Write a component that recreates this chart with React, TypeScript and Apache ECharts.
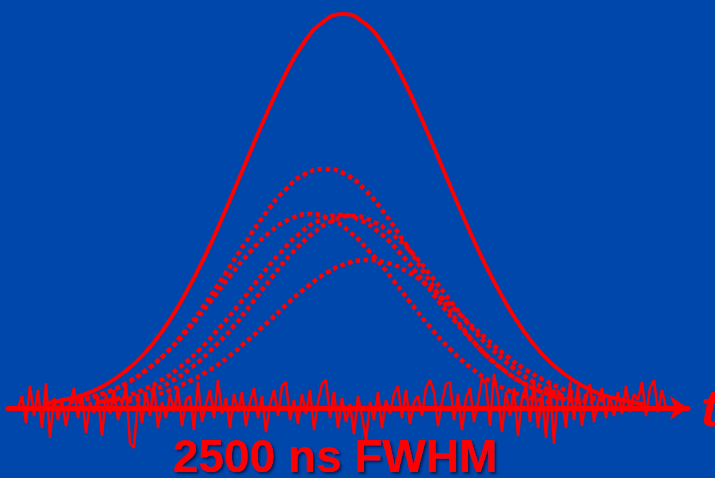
import React, { useEffect, useRef } from "react";
import * as echarts from "echarts";

// ---- data (x = time sample position, y = signal height above baseline) ----
const STEP = 20;

// solid reference pulse
const SOLID_START = 43;
const SOLID = [4, 8, 13, 22, 35, 53, 78, 110, 148, 192, 239, 286, 329, 364, 386, 394, 386, 364, 329, 286, 239, 192, 148, 110, 78, 53, 35, 22, 13, 8, 4];

// dotted individual pulses
const DOT_A_START = 85;
const DOT_A = [9, 15, 24, 37, 54, 77, 104, 134, 165, 194, 218, 234, 239, 234, 218, 194, 165, 134, 104, 77, 54, 37, 24, 15, 9];
const DOT_B_START = 70;
const DOT_B = [6, 10, 17, 27, 41, 59, 81, 106, 132, 156, 176, 189, 194, 189, 176, 156, 132, 106, 81, 59, 41, 27, 17, 10, 6];
const DOT_C_START = 100;
const DOT_C = [6, 10, 17, 27, 41, 59, 81, 105, 131, 155, 175, 188, 193, 188, 175, 155, 131, 105, 81, 59, 41, 27, 17, 10, 6];
const DOT_D_START = 112;
const DOT_D = [6, 10, 17, 27, 41, 59, 80, 105, 131, 155, 174, 187, 192, 187, 174, 155, 131, 105, 80, 59, 41, 27, 17, 10, 6];
const DOT_E_START = 128;
const DOT_E = [7, 11, 17, 26, 37, 51, 68, 86, 105, 122, 136, 145, 148, 145, 136, 122, 105, 86, 68, 51, 37, 26, 17, 11, 7];

// baseline noise
const NOISE_START = 18;
const NOISE_STEP = 4;
const NOISE = [
  0, 12, -15, 22, -8, 18, -20, 25, -30, 10, -12,
  8, -18, 5, 20, -10, 15, -25, 6, -5, 12,
  -28, 14, -6, 18, -12, 4, 22, -35, -40, 10,
  -15, 16, -8, 24, -20, 6, -10, 14, -4, 20,
  -18, 8, 12, -22, 26, -14, 4, 18, -10, 28,
  -6, 10, -20, 14, -4, 16, -18, 6, 20, -10,
  12, -24, 4, 18, -8, 22, 26, -12, 8, -16,
  14, -6, 18, -22, 6, 24, 28, -10, 16, -20,
  10, -14, 4, -26, 12, -8, -32, 6, -12, 16,
  -20, 8, -6, 14, 22, -10, 18, -16, 6, 12,
  -8, 20, 28, 16, -18, 6, 24, 26, -12, 14,
  -22, 10, 20, -14, 6, 30, 24, -18, 34, 12,
  -24, 16, -8, 20, -28, 10, 22, -14, 26, -20,
  14, -30, 24, -36, 18, 8, -20, 26, -12, 22,
  -18, 10, 24, -14, 6, 20, -10, 12, -8, 16,
  -6, 22, -4, 14, 8, 26, -8, 20, 28, -4, 18, 0,
];

const AXIS_NAME = "t";
const CAPTION = "2500 ns FWHM";

const RED = "#ff0000";
const BG = "#0047ab";
const FONT = "'Liberation Sans', Arial, sans-serif";

function toPairs(start: number, step: number, vals: number[]) {
  return vals.map((v, i) => [start + i * step, v]);
}

export default function App() {
  const ref = useRef<HTMLDivElement>(null);
  useEffect(() => {
    if (!ref.current) return;
    const chart = echarts.init(ref.current, null, { renderer: "svg" });
    const dotted = (start: number, vals: number[]) => ({
      type: "line",
      data: toPairs(start, STEP, vals),
      smooth: true,
      symbol: "none",
      z: 3,
      lineStyle: { color: RED, width: 4.5, type: [4.5, 3.5], cap: "butt" },
    });
    chart.setOption({
      animation: false,
      backgroundColor: BG,
      grid: { left: 8, right: 27, top: 0, bottom: 0, outerBoundsMode: "none", containLabel: false },
      xAxis: {
        type: "value",
        min: 8,
        max: 688,
        name: AXIS_NAME,
        nameLocation: "end",
        nameGap: 13,
        nameTextStyle: {
          color: RED,
          fontSize: 52,
          fontStyle: "italic",
          fontWeight: "bold",
          fontFamily: FONT,
          verticalAlign: "middle",
          padding: [6, 0, 0, 0],
        },
        axisLine: {
          show: true,
          onZero: true,
          symbol: ["none", "arrow"],
          symbolSize: [18, 18],
          lineStyle: { color: RED, width: 5 },
        },
        axisTick: { show: false },
        axisLabel: { show: false },
        splitLine: { show: false },
      },
      yAxis: {
        type: "value",
        min: -70,
        max: 408,
        show: false,
        splitLine: { show: false },
      },
      series: [
        {
          type: "line",
          data: toPairs(NOISE_START, NOISE_STEP, NOISE),
          symbol: "none",
          z: 2,
          lineStyle: { color: RED, width: 2.5 },
        },
        dotted(DOT_A_START, DOT_A),
        dotted(DOT_B_START, DOT_B),
        dotted(DOT_C_START, DOT_C),
        dotted(DOT_D_START, DOT_D),
        dotted(DOT_E_START, DOT_E),
        {
          type: "line",
          data: toPairs(SOLID_START, STEP, SOLID),
          smooth: true,
          symbol: "none",
          z: 4,
          lineStyle: { color: RED, width: 4 },
        },
      ],
      graphic: [
        {
          type: "text",
          x: 335,
          y: 456,
          style: {
            text: CAPTION,
            x: 0,
            y: 0,
            align: "center",
            verticalAlign: "middle",
            lineHeight: 40,
            fill: RED,
            font: `bold 46px ${FONT}`,
            textShadowColor: "rgba(0,20,70,0.85)",
            textShadowOffsetX: 2,
            textShadowOffsetY: 2,
            textShadowBlur: 2,
          },
        },
      ],
    });
    return () => chart.dispose();
  }, []);
  return (
    <div
      ref={ref}
      style={{ position: "fixed", left: 0, top: 0, width: 715, height: 478 }}
    />
  );
}
